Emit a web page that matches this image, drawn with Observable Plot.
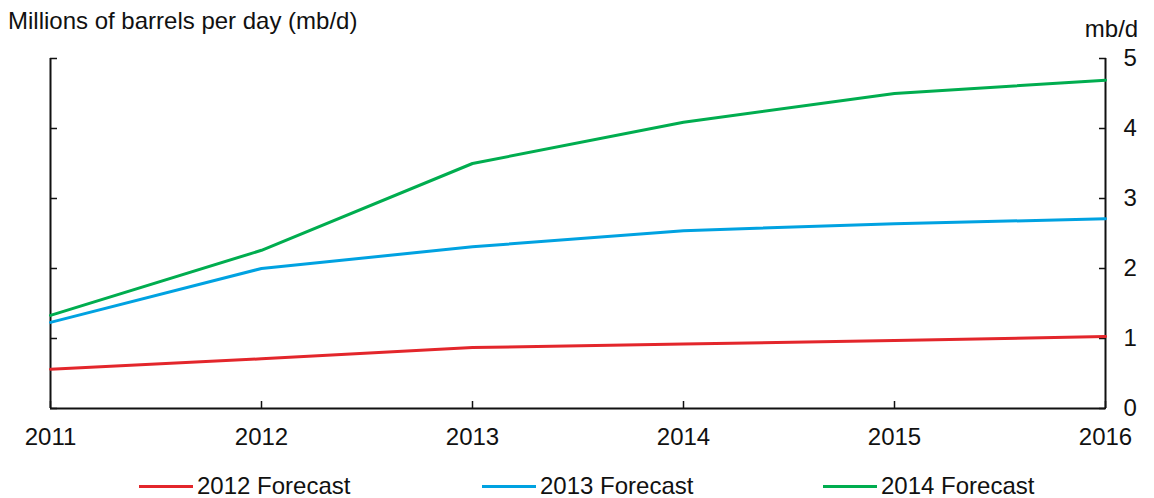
<!DOCTYPE html>
<html>
<head>
<meta charset="utf-8">
<script src="https://cdn.jsdelivr.net/npm/d3@7"></script>
<script src="https://cdn.jsdelivr.net/npm/@observablehq/plot@0.6"></script>
<style>
  html, body { margin: 0; padding: 0; background: #fff; }
  body { font-family: "Liberation Sans", Arial, sans-serif; }
  #wrap { position: relative; width: 1154px; height: 498px; overflow: hidden; }
  #title { position: absolute; left: 8px; top: 7px; font-size: 24px; color: #111; white-space: nowrap; }
  #plot { position: absolute; left: 0; top: 0; }
  .leg { position: absolute; top: 472px; font-size: 24px; color: #111; white-space: nowrap; display: flex; align-items: center; }
  .leg span.sw { display: inline-block; width: 54px; height: 3px; margin-right: 4px; }
</style>
</head>
<body>
<div id="wrap">
  <div id="plot"></div>
  <div id="title">Millions of barrels per day (mb/d)</div>
  <div id="legend"></div>
</div>
<script>
const years = [2011, 2012, 2013, 2014, 2015, 2016];
const seriesNames = ["2012 Forecast", "2013 Forecast", "2014 Forecast"];
const colors = ["#e3262b", "#00a2e1", "#00ad4f"];
const forecast2012 = [0.56, 0.71, 0.87, 0.92, 0.97, 1.03];
const forecast2013 = [1.23, 2.00, 2.31, 2.54, 2.64, 2.71];
const forecast2014 = [1.33, 2.26, 3.50, 4.09, 4.50, 4.69];
const yTicks = [0, 1, 2, 3, 4, 5];
const legendX = [139, 482, 823];

const allSeries = [forecast2012, forecast2013, forecast2014];
const data = [];
allSeries.forEach((vals, i) => {
  vals.forEach((v, j) => data.push({year: years[j], value: v, series: seriesNames[i]}));
});

const chart = Plot.plot({
  width: 1154,
  height: 460,
  marginLeft: 50,
  marginRight: 49,
  marginTop: 58,
  marginBottom: 52,
  style: {fontFamily: "Liberation Sans, Arial, sans-serif", fontSize: "24px", color: "#111", background: "transparent", overflow: "visible"},
  x: {type: "linear", domain: [2011, 2016]},
  y: {domain: [0, 5]},
  color: {domain: seriesNames, range: colors},
  marks: [
    Plot.axisX({ticks: years, tickSize: -7, text: null, stroke: "#111", strokeWidth: 1.5, label: null}),
    Plot.axisX({ticks: years, tickSize: 0, tickPadding: 19, tickFormat: d => String(d), label: null, fontSize: 24}),
    Plot.axisY({anchor: "left", ticks: yTicks, tickSize: -7, text: null, stroke: "#111", strokeWidth: 1.5, label: null}),
    Plot.axisY({anchor: "right", ticks: yTicks, tickSize: -7, text: null, stroke: "#111", strokeWidth: 1.5, label: null}),
    Plot.axisY({anchor: "right", ticks: yTicks, tickSize: 0, tickPadding: 18, textAnchor: "start", tickFormat: d3.format("d"), label: null, fontSize: 24}),
    Plot.ruleX([2011, 2016], {y1: 0, y2: 5, stroke: "#111", strokeWidth: 2}),
    Plot.ruleY([0], {stroke: "#111", strokeWidth: 2}),
    Plot.line(data, {x: "year", y: "value", z: "series", stroke: "series", strokeWidth: 3}),
    Plot.text(["mb/d"], {frameAnchor: "top-right", text: d => d, dx: 6, dy: -22, lineAnchor: "bottom", textAnchor: "middle", fontSize: 24, fill: "#111"})
  ]
});
document.getElementById("plot").appendChild(chart);

const legend = document.getElementById("legend");
seriesNames.forEach((name, i) => {
  const item = document.createElement("div");
  item.className = "leg";
  item.style.left = legendX[i] + "px";
  const sw = document.createElement("span");
  sw.className = "sw";
  sw.style.background = colors[i];
  item.appendChild(sw);
  const t = document.createElement("span");
  t.textContent = name;
  item.appendChild(t);
  legend.appendChild(item);
});
</script>
</body>
</html>
